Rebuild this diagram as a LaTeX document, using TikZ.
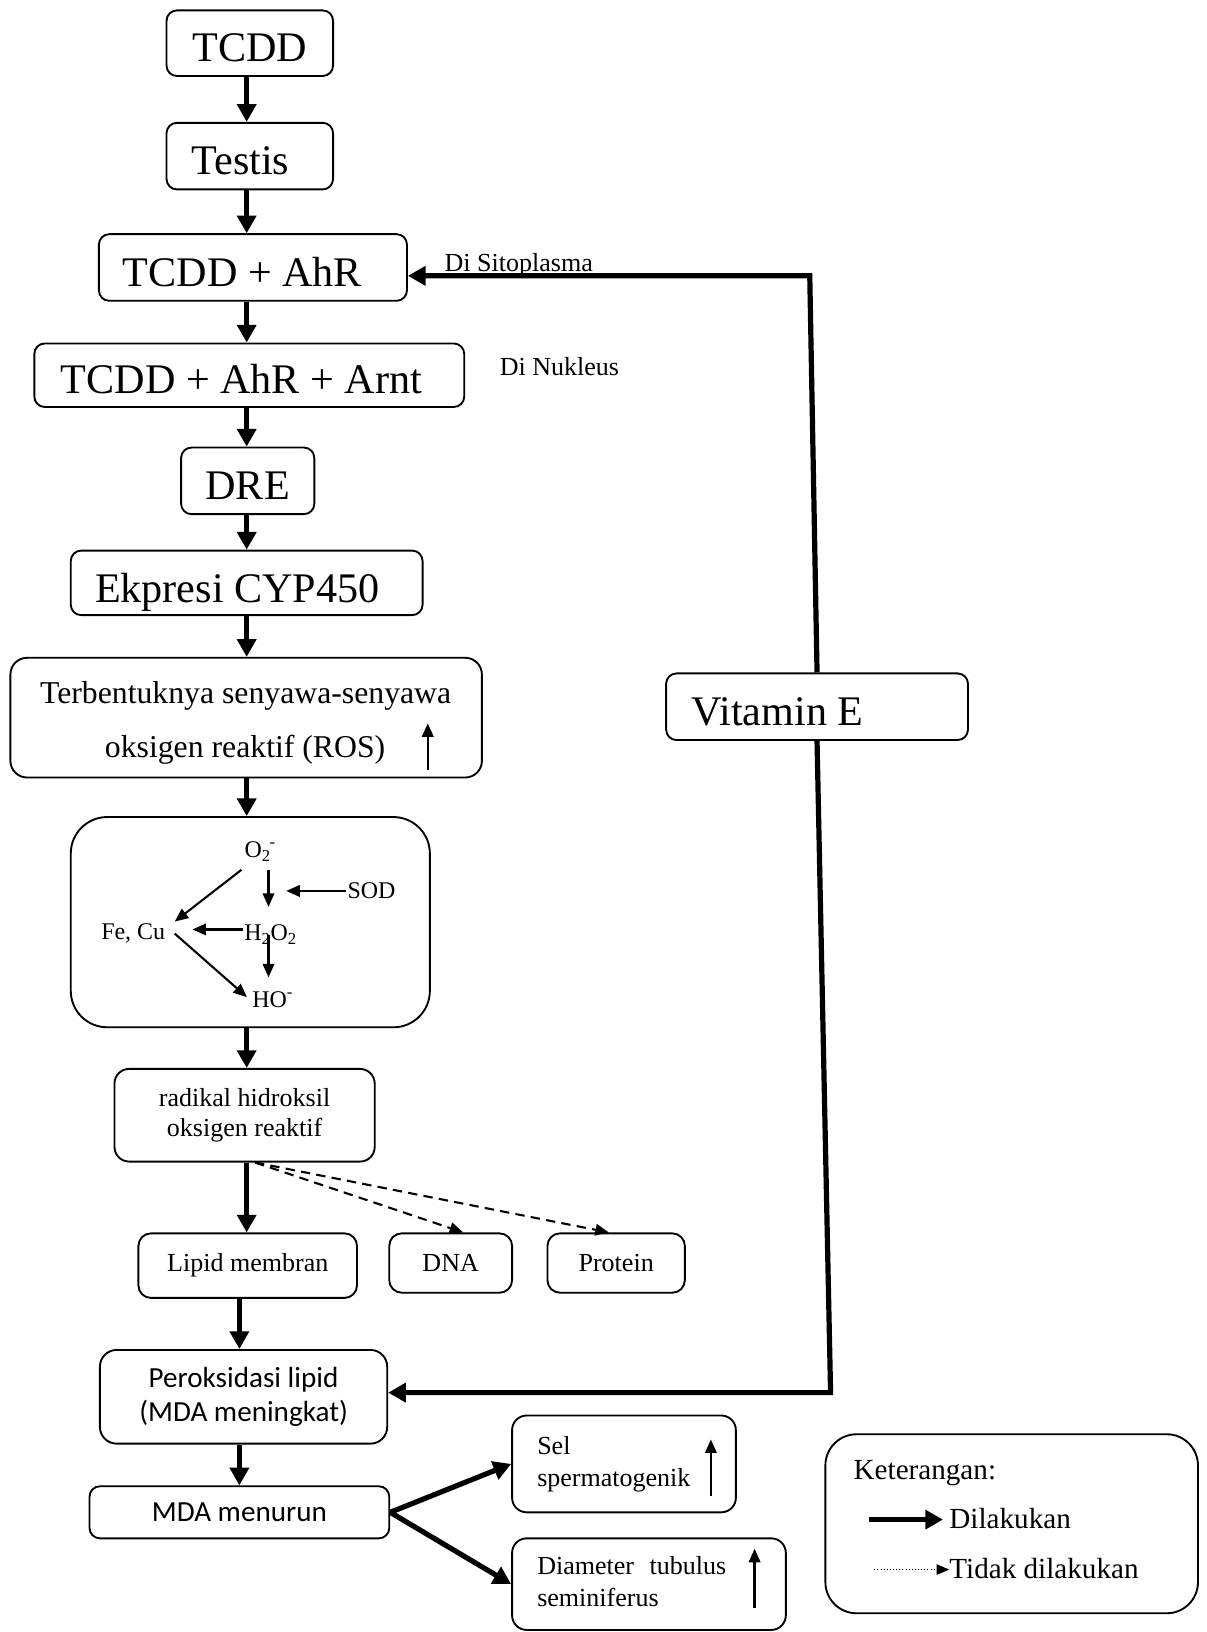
\documentclass[tikz,border=0pt]{standalone}
\usepackage{fontspec}
\setmainfont{Liberation Serif}
\newfontfamily\carl{Carlito}
\usetikzlibrary{arrows.meta}
\begin{document}
\begin{tikzpicture}[x=1pt,y=-1pt,
  box/.style={draw, line width=1.8pt, rounded corners=10pt, inner sep=0pt},
  big/.style={font=\fontsize{40.5}{46}\selectfont, text height=36pt, text depth=0pt},
  mid/.style={font=\fontsize{25}{29}\selectfont},
  cal/.style={font=\carl\fontsize{28}{33}\selectfont},
  legf/.style={font=\fontsize{28}{32}\selectfont},
  rx/.style={font=\fontsize{23}{27}\selectfont, inner sep=1pt},
  txt/.style={inner sep=0pt},
  arr/.style={line width=5pt, -{Triangle[length=17pt,width=18pt]}},
  tarr/.style={line width=2pt, -{Triangle[length=13pt,width=11pt]}},
  uparr/.style={line width=2.2pt, -{Triangle[length=13pt,width=11pt]}},
  dasharr/.style={line width=2pt, dash pattern=on 9pt off 6pt, -{Triangle[length=13pt,width=11pt]}},
  dotarr/.style={line width=1pt, dotted, -{Triangle[length=12pt,width=10pt]}}
]
\fill[white] (0,0) rectangle (1159,1568);
\useasboundingbox (0,0) rectangle (1159,1568);

% main chain
\node[box, big, minimum width=160pt, minimum height=63pt] (tcdd) at (240,41.5) {TCDD};
\node[box, big, minimum width=160pt, minimum height=64pt] (testis) at (240,150) {\hspace*{-18pt}Testis};
\node[box, big, minimum width=296pt, minimum height=64pt] (ahr) at (243,257) {\hspace*{-20pt}TCDD + AhR};
\node[box, big, minimum width=413pt, minimum height=61pt] (arnt) at (239.5,360.5) {\hspace*{-15pt}TCDD + AhR + Arnt};
\node[box, big, minimum width=128pt, minimum height=64pt] (dre) at (238,462) {DRE};
\node[box, big, minimum width=338pt, minimum height=62pt, text height=38pt] (cyp) at (237,560) {\hspace*{-18pt}Ekpresi CYP450};

\node[box, minimum width=453pt, minimum height=115pt, rounded corners=16pt] (ros) at (236.5,689.5) {};
\node[txt, font=\fontsize{30.5}{36}\selectfont, anchor=base] (rosA) at (236,676) {Terbentuknya senyawa-senyawa};
\node[txt, font=\fontsize{30.5}{36}\selectfont, anchor=base] (rosB) at (235.5,728) {oksigen reaktif (ROS)};
\coordinate (rosu1) at (411,740);
\coordinate (rosu2) at (411,695);
\draw[uparr] (rosu1) -- (rosu2);

% reaction box
\node[box, minimum width=345pt, minimum height=202pt, rounded corners=35pt] (rxn) at (240.5,886) {};
\node[rx] (o2) at (250,818) {O\textsubscript{2}\kern-1pt\textsuperscript{-}};
\node[rx] (sod) at (357,856) {SOD};
\node[rx] (fecu) at (128,897) {Fe, Cu};
\node[rx] (h2o2) at (260,898) {H\textsubscript{2}O\textsubscript{2}};
\node[rx] (ho) at (262,960) {HO\textsuperscript{-}};
\coordinate (vx) at (258,0);
\coordinate (sodtip) at (275,0);
\draw[tarr, shorten <=7pt, shorten >=16pt] (o2.south -| vx) -- (h2o2.north -| vx);
\draw[tarr] (sod.west) -- (sod.west -| sodtip);
\draw[tarr] ([xshift=-18pt,yshift=-7pt]o2.south) -- ([xshift=8pt,yshift=1pt]fecu.north east);
\draw[tarr] ([yshift=5pt]h2o2.west) -- ([xshift=25pt,yshift=4pt]fecu.east);
\draw[tarr, shorten >=12pt] (h2o2.center -| vx) -- (ho.north -| vx);
\draw[tarr] ([xshift=8pt]fecu.east) -- ([xshift=-4pt,yshift=2pt]ho.west);

\node[box, mid, align=center, minimum width=250pt, minimum height=89pt, rounded corners=14pt] (rad) at (235,1071.5) {radikal hidroksil\\oksigen reaktif};
\node[box, mid, minimum width=210pt, minimum height=62pt, rounded corners=12pt] (lipid) at (238,1216) {Lipid membran};
\node[box, mid, minimum width=118pt, minimum height=57pt, rounded corners=12pt] (dna) at (433,1213.5) {DNA};
\node[box, mid, minimum width=132pt, minimum height=57pt, rounded corners=12pt] (prot) at (592,1213.5) {Protein};

\node[box, cal, align=center, minimum width=276pt, minimum height=90pt, rounded corners=16pt] (perok) at (234,1342) {Peroksidasi lipid\\(MDA meningkat)};
\node[box, cal, minimum width=288pt, minimum height=50pt] (mda) at (230,1453) {MDA menurun};

\node[box, minimum width=215pt, minimum height=93pt, rounded corners=14pt] (sel) at (599.5,1406.5) {};
\node[txt, mid, anchor=base west] (selA) at (516,1397) {Sel};
\node[txt, mid, anchor=base west] (selB) at (516,1428) {spermatogenik};
\coordinate (selu1) at (683,1437);
\coordinate (selu2) at (683,1383);
\draw[uparr] (selu1) -- (selu2);

\node[box, minimum width=263pt, minimum height=88pt, rounded corners=14pt] (diam) at (623.5,1522) {};
\node[txt, mid, anchor=base west] (diamA) at (516,1513) {Diameter\hspace{15pt}tubulus};
\node[txt, mid, anchor=base west] (diamB) at (516,1543) {seminiferus};
\coordinate (diu1) at (725,1545);
\coordinate (diu2) at (725,1488);
\draw[uparr] (diu1) -- (diu2);

% Vitamin E
\node[box, big, minimum width=290pt, minimum height=64pt] (vit) at (785,679) {\hspace*{-76pt}Vitamin E};
\coordinate (vtop) at (778,265);
\coordinate (vbot) at (798,1338);
\draw[arr] (vit.north) -- (vtop) -- (vtop -| ahr.east);
\draw[arr] (vit.south) -- (vbot) -- (vbot -| perok.east);

\node[txt, font=\fontsize{25}{29}\selectfont, anchor=base west] (sito) at (427,261) {Di Sitoplasma};
\node[txt, font=\fontsize{25}{29}\selectfont, anchor=base west] (nuk) at (480,361) {Di Nukleus};

% chain arrows
\coordinate (spine) at (237,0);
\coordinate (spine2) at (230,0);
\foreach \a/\b in {tcdd/testis, testis/ahr, ahr/arnt, arnt/dre, dre/cyp, cyp/ros, ros/rxn, rxn/rad, rad/lipid}
  \draw[arr] (\a.south -| spine) -- (\b.north -| spine);
\draw[arr] (lipid.south -| spine2) -- (perok.north -| spine2);
\draw[arr] (perok.south -| spine2) -- (mda.north -| spine2);
\draw[dasharr] ([xshift=10pt]rad.south) -- ([xshift=12pt]dna.north);
\draw[dasharr] ([xshift=10pt]rad.south) -- ([xshift=-7pt]prot.north);
\draw[arr] (mda.east) -- (sel.west);
\draw[arr] (mda.east) -- (diam.west);

% legend
\node[box, minimum width=358pt, minimum height=172pt, rounded corners=30pt] (leg) at (972,1464) {};
\node[txt, legf, anchor=base west] (ket) at (820,1421) {Keterangan:};
\node[txt, legf, anchor=base west] (dil) at (912,1469) {Dilakukan};
\node[txt, legf, anchor=base west] (tdil) at (912,1517) {Tidak dilakukan};
\coordinate (l1) at (835,1460);
\coordinate (l2) at (840,1508);
\draw[arr, shorten >=6pt] (l1) -- (l1 -| dil.west);
\draw[dotarr] (l2) -- (l2 -| tdil.west);
\end{tikzpicture}
\end{document}
